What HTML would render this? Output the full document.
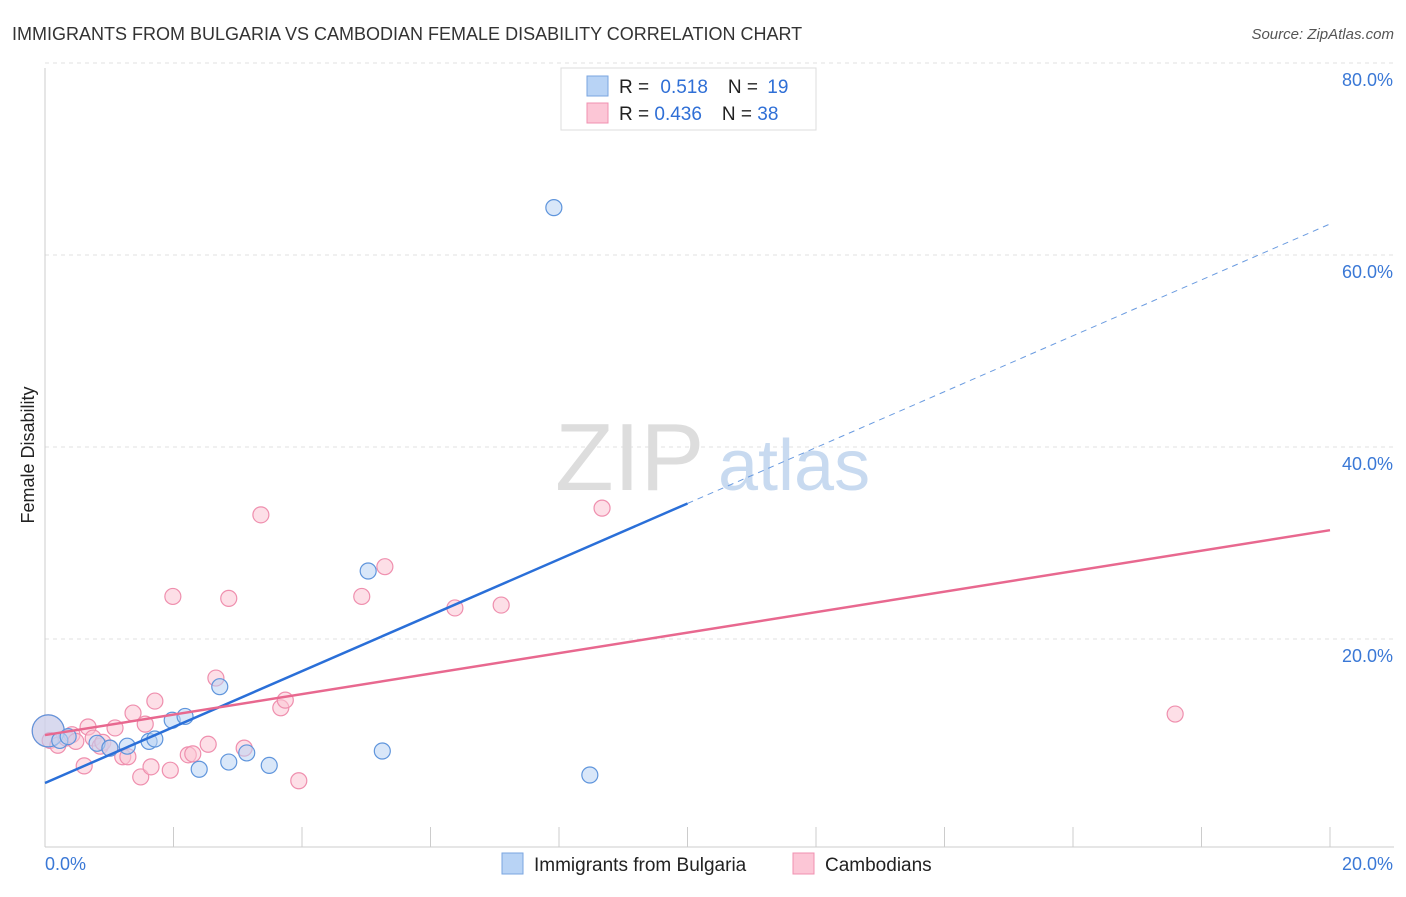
<!DOCTYPE html>
<html><head><meta charset="utf-8"><style>
body{margin:0;background:#fff;font-family:"Liberation Sans",sans-serif;}
svg text{font-family:"Liberation Sans",sans-serif;}
</style></head><body>
<svg width="1406" height="892" viewBox="0 0 1406 892" xmlns="http://www.w3.org/2000/svg">
<text x="12" y="40" font-size="18" fill="#333">IMMIGRANTS FROM BULGARIA VS CAMBODIAN FEMALE DISABILITY CORRELATION CHART</text>
<text x="1394" y="39" font-size="15" fill="#555" font-style="italic" text-anchor="end">Source: ZipAtlas.com</text>
<g id="grid"></g>
<g id="axes"></g>
<text x="555" y="490" font-size="96" fill="#ddd" font-family="Liberation Serif">ZIP</text>
<text x="718" y="490" font-size="72" fill="#c8daf0">atlas</text>
<g id="pts"></g>
<g id="lines"></g>
<text transform="translate(34,455) rotate(-90)" font-size="18" fill="#222" text-anchor="middle">Female Disability</text>
<text x="45" y="870" font-size="18" fill="#3a78d6">0.0%</text>
<text x="1393" y="870" font-size="18" fill="#3a78d6" text-anchor="end">20.0%</text>
<g>
<rect x="561" y="68" width="255" height="62" fill="#fff" stroke="#ddd"/>
<rect x="587" y="76" width="21" height="20" fill="#b8d3f5" stroke="#7aa6e0"/>
<rect x="587" y="103" width="21" height="20" fill="#fcc6d6" stroke="#f090b0"/>
<text x="619" y="93" font-size="19" fill="#222">R = <tspan fill="#2f6fd6" dx="6">0.518</tspan><tspan dx="20" fill="#222">N = </tspan><tspan fill="#2f6fd6" dx="4">19</tspan></text>
<text x="619" y="120" font-size="19" fill="#222">R = <tspan fill="#2f6fd6">0.436</tspan><tspan dx="20" fill="#222">N = </tspan><tspan fill="#2f6fd6">38</tspan></text>
</g>
<g>
<rect x="502" y="853" width="21" height="21" fill="#b8d3f5" stroke="#7aa6e0"/>
<text x="534" y="871" font-size="19" fill="#222">Immigrants from Bulgaria</text>
<rect x="793" y="853" width="21" height="21" fill="#fcc6d6" stroke="#f090b0"/>
<text x="825" y="871" font-size="19" fill="#222">Cambodians</text>
</g>
</svg>
<script>
const yTicks=[20,40,60,80];
const yTickLabels=["20.0%","40.0%","60.0%","80.0%"];
const xTicks=[0,2,4,6,8,10,12,14,16,18,20];
const bulgariaX=[0.05,0.23,0.36,0.81,1.01,1.28,1.62,1.71,1.98,2.18,2.40,2.72,2.86,3.14,3.49,5.03,5.25,7.92,8.48];
const bulgariaY=[12.1,11.1,11.5,10.8,10.3,10.5,11.0,11.25,13.2,13.6,8.1,16.7,8.85,9.8,8.5,28.75,10.0,66.6,7.5];
const cambX=[0.05,0.08,0.2,0.33,0.42,0.48,0.61,0.67,0.75,0.86,0.9,1.01,1.09,1.21,1.29,1.37,1.49,1.56,1.65,1.71,1.95,1.99,2.23,2.3,2.54,2.66,2.86,3.1,3.36,3.67,3.74,3.95,4.93,5.29,6.38,7.1,8.67,17.59];
const cambY=[12.1,11.1,10.6,11.35,11.7,11.0,8.45,12.5,11.35,10.5,10.9,10.3,12.4,9.4,9.4,13.95,7.3,12.8,8.35,15.2,8.0,26.1,9.6,9.7,10.7,17.6,25.9,10.3,34.6,14.5,15.3,6.9,26.1,29.2,24.9,25.2,35.3,13.85];
const bulgariaTrend=[6.67,64.9];
const cambTrend=[11.66,33.0];
const bulgariaSolidEnd=10.0;
const NS="http://www.w3.org/2000/svg";
const sx=v=>45+v/20*1285;
const sy=v=>847-v*9.6;
function mk(tag,attrs,parent){const e=document.createElementNS(NS,tag);for(const k in attrs)e.setAttribute(k,attrs[k]);parent.appendChild(e);return e;}
const grid=document.getElementById('grid'),axes=document.getElementById('axes'),pts=document.getElementById('pts'),lines=document.getElementById('lines');
yTicks.forEach((t,i)=>{
  const l=mk('line',{x1:45,x2:1394,y1:sy(t)-16,y2:sy(t)-16,stroke:'#e2e2e2','stroke-dasharray':'4,4'},grid);
  
  
  const tx=mk('text',{x:1393,y:sy(t)-16+23,'font-size':18,fill:'#3a78d6','text-anchor':'end'},grid);
  tx.textContent=yTickLabels[i];
  
  
});
const xa=mk('line',{x1:45,x2:1394,y1:847,y2:847,stroke:'#ccc'},axes);


const ya=mk('line',{x1:45,x2:45,y1:68,y2:847,stroke:'#ccc'},axes);


xTicks.forEach(t=>{
  const l=mk('line',{x1:sx(t),x2:sx(t),y1:827,y2:847,stroke:'#ccc'},axes);
  
  
});
function dots(X,Y,fill,stroke,name){
  X.forEach((x,i)=>{
    const r=(i===0)?16:8;
    const c=mk('circle',{cx:sx(x),cy:sy(Y[i]),r:r,fill:fill,'fill-opacity':0.55,stroke:stroke,'stroke-width':1.2},pts);
    
    
  });
}
dots(cambX,cambY,'#fbc4d4','#ef8fae','point-cambodians');
dots(bulgariaX,bulgariaY,'#b9d3f4','#5f95dc','point-bulgaria');
const bt=v=>bulgariaTrend[0]+(bulgariaTrend[1]-bulgariaTrend[0])*v/20;
const ct=v=>cambTrend[0]+(cambTrend[1]-cambTrend[0])*v/20;
const l1=mk('line',{x1:sx(0),y1:sy(bt(0)),x2:sx(bulgariaSolidEnd),y2:sy(bt(bulgariaSolidEnd)),stroke:'#2a6fd8','stroke-width':2.5},lines);


const l2=mk('line',{x1:sx(bulgariaSolidEnd),y1:sy(bt(bulgariaSolidEnd)),x2:sx(20),y2:sy(bt(20)),stroke:'#6a9be0','stroke-width':1,'stroke-dasharray':'6,5'},lines);


const l3=mk('line',{x1:sx(0),y1:sy(ct(0)),x2:sx(20),y2:sy(ct(20)),stroke:'#e8688f','stroke-width':2.5},lines);


</script>
</body></html>
